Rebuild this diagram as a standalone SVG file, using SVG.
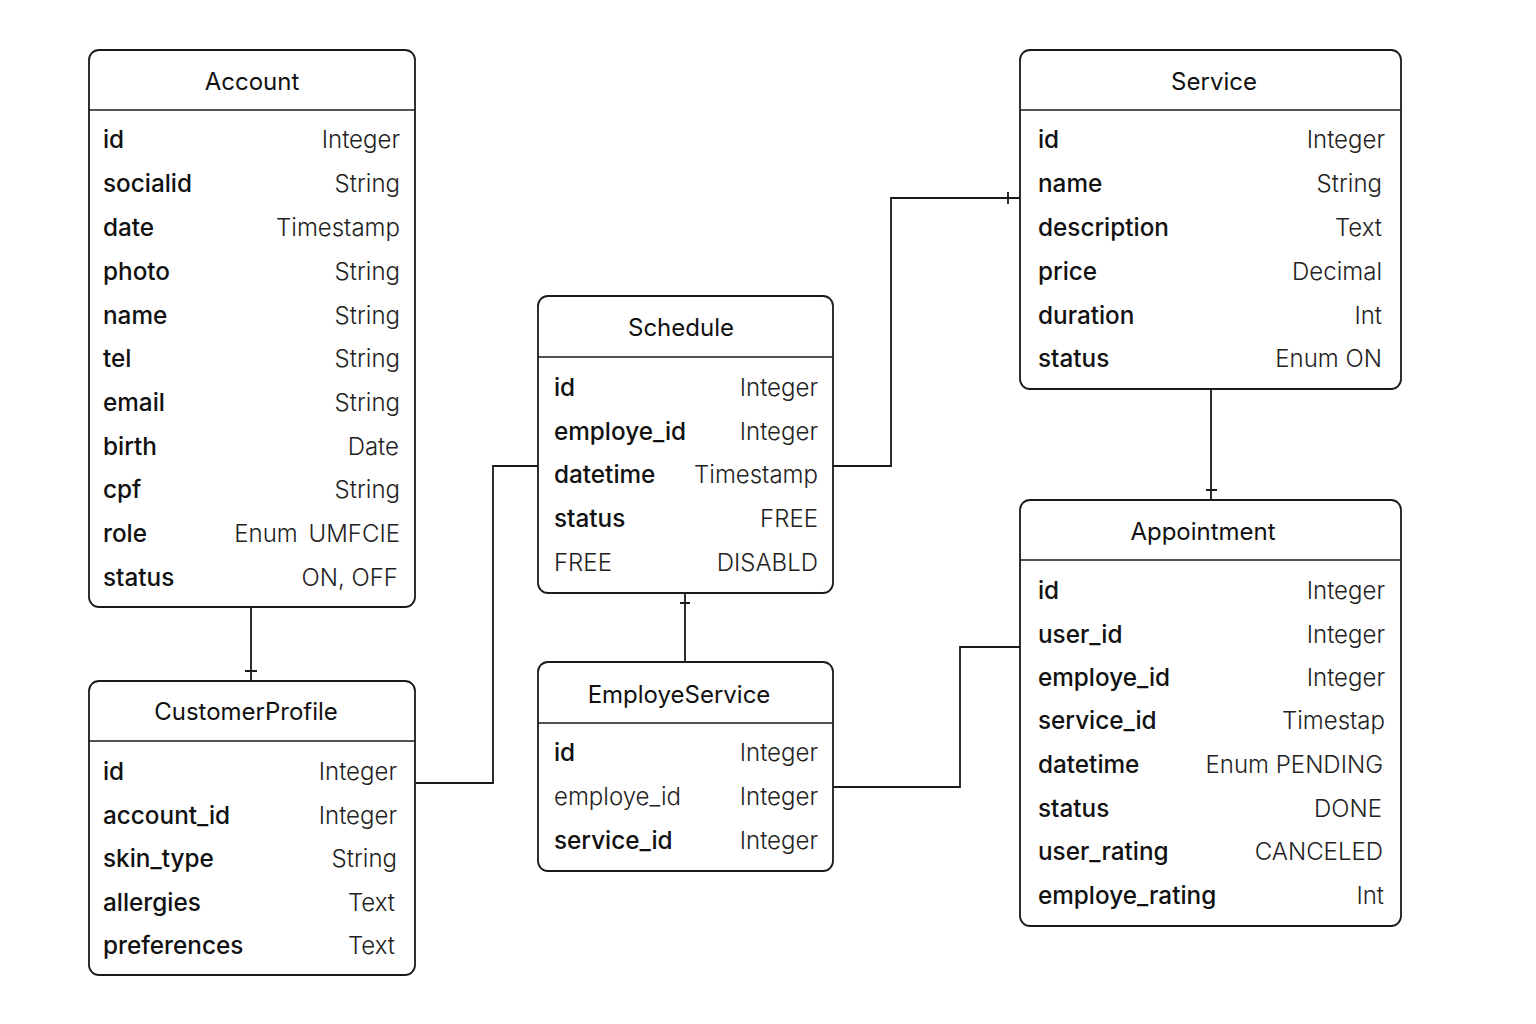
<svg xmlns="http://www.w3.org/2000/svg" width="1536" height="1024" viewBox="0 0 1536 1024">
<style>
.box{fill:#fff;stroke:#1a1a1a;stroke-width:1.8}
.sep{stroke:#1a1a1a;stroke-width:1.5}
.title{font-family:Inter,Roboto,"Liberation Sans",sans-serif;font-size:24px;fill:#111;text-anchor:middle;font-weight:400}
.f{font-family:Inter,Roboto,"Liberation Sans",sans-serif;font-size:24.3px;fill:#111;font-weight:500}
.t{font-family:Inter,Roboto,"Liberation Sans",sans-serif;font-size:24px;fill:#222;text-anchor:end;font-weight:350}
.c{fill:none;stroke:#1a1a1a;stroke-width:1.8}
</style>
<rect width="1536" height="1024" fill="#fff"/>
<g id="connectors">
<path class="c" d="M251,607 V681 M245,671 H257"/>
<path class="c" d="M416,783 H493 V466 H538"/>
<path class="c" d="M833,466 H891 V198 H1020 M1008,192 V204"/>
<path class="c" d="M1211,389 V500 M1206,490 H1217"/>
<path class="c" d="M685,593 V662 M680,603 H690"/>
<path class="c" d="M833,787 H960 V647 H1020"/>
</g>
<g id="Account">
<rect class="box" x="89" y="50" width="326" height="557" rx="10"/>
<line class="sep" x1="89" y1="110" x2="415" y2="110"/>
<text class="title" x="252" y="90">Account</text>
<text class="f" x="103" y="148">id</text><text class="t" x="400" y="148">Integer</text>
<text class="f" x="103" y="192">socialid</text><text class="t" x="400" y="192">String</text>
<text class="f" x="103" y="236">date</text><text class="t" x="400" y="236">Timestamp</text>
<text class="f" x="103" y="280">photo</text><text class="t" x="400" y="280">String</text>
<text class="f" x="103" y="324">name</text><text class="t" x="400" y="324">String</text>
<text class="f" x="103" y="367">tel</text><text class="t" x="400" y="367">String</text>
<text class="f" x="103" y="411">email</text><text class="t" x="400" y="411">String</text>
<text class="f" x="103" y="455">birth</text><text class="t" x="399" y="455">Date</text>
<text class="f" x="103" y="498">cpf</text><text class="t" x="400" y="498">String</text>
<text class="f" x="103" y="542">role</text><text class="t" x="400" y="542">Enum <tspan dx="4">UMFCIE</tspan></text>
<text class="f" x="103" y="586">status</text><text class="t" x="398" y="586">ON, OFF</text>
</g>
<g id="CustomerProfile">
<rect class="box" x="89" y="681" width="326" height="294" rx="10"/>
<line class="sep" x1="89" y1="741" x2="415" y2="741"/>
<text class="title" x="246" y="720">CustomerProfile</text>
<text class="f" x="103" y="780">id</text><text class="t" x="397" y="780">Integer</text>
<text class="f" x="103" y="824">account_id</text><text class="t" x="397" y="824">Integer</text>
<text class="f" x="103" y="867">skin_type</text><text class="t" x="397" y="867">String</text>
<text class="f" x="103" y="911">allergies</text><text class="t" x="395" y="911">Text</text>
<text class="f" x="103" y="954">preferences</text><text class="t" x="395" y="954">Text</text>
</g>
<g id="Schedule">
<rect class="box" x="538" y="296" width="295" height="297" rx="10"/>
<line class="sep" x1="538" y1="357" x2="833" y2="357"/>
<text class="title" x="681" y="336">Schedule</text>
<text class="f" x="554" y="396">id</text><text class="t" x="818" y="396">Integer</text>
<text class="f" x="554" y="440">employe_id</text><text class="t" x="818" y="440">Integer</text>
<text class="f" x="554" y="483">datetime</text><text class="t" x="818" y="483">Timestamp</text>
<text class="f" x="554" y="527">status</text><text class="t" x="818" y="527">FREE</text>
<text class="t" x="554" y="571" style="text-anchor:start">FREE</text><text class="t" x="818" y="571">DISABLD</text>
</g>
<g id="EmployeService">
<rect class="box" x="538" y="662" width="295" height="209" rx="10"/>
<line class="sep" x1="538" y1="723" x2="833" y2="723"/>
<text class="title" x="679" y="703">EmployeService</text>
<text class="f" x="554" y="761">id</text><text class="t" x="818" y="761">Integer</text>
<text class="t" x="554" y="805" style="text-anchor:start">employe_id</text><text class="t" x="818" y="805">Integer</text>
<text class="f" x="554" y="849">service_id</text><text class="t" x="818" y="849">Integer</text>
</g>
<g id="Service">
<rect class="box" x="1020" y="50" width="381" height="339" rx="10"/>
<line class="sep" x1="1020" y1="110" x2="1401" y2="110"/>
<text class="title" x="1214" y="90">Service</text>
<text class="f" x="1038" y="148">id</text><text class="t" x="1385" y="148">Integer</text>
<text class="f" x="1038" y="192">name</text><text class="t" x="1382" y="192">String</text>
<text class="f" x="1038" y="236">description</text><text class="t" x="1382" y="236">Text</text>
<text class="f" x="1038" y="280">price</text><text class="t" x="1382" y="280">Decimal</text>
<text class="f" x="1038" y="324">duration</text><text class="t" x="1382" y="324">Int</text>
<text class="f" x="1038" y="367">status</text><text class="t" x="1382" y="367">Enum ON</text>
</g>
<g id="Appointment">
<rect class="box" x="1020" y="500" width="381" height="426" rx="10"/>
<line class="sep" x1="1020" y1="560" x2="1401" y2="560"/>
<text class="title" x="1203" y="540">Appointment</text>
<text class="f" x="1038" y="599">id</text><text class="t" x="1385" y="599">Integer</text>
<text class="f" x="1038" y="643">user_id</text><text class="t" x="1385" y="643">Integer</text>
<text class="f" x="1038" y="686">employe_id</text><text class="t" x="1385" y="686">Integer</text>
<text class="f" x="1038" y="729">service_id</text><text class="t" x="1385" y="729">Timestap</text>
<text class="f" x="1038" y="773">datetime</text><text class="t" x="1383" y="773">Enum PENDING</text>
<text class="f" x="1038" y="817">status</text><text class="t" x="1382" y="817">DONE</text>
<text class="f" x="1038" y="860">user_rating</text><text class="t" x="1383" y="860">CANCELED</text>
<text class="f" x="1038" y="904">employe_rating</text><text class="t" x="1384" y="904">Int</text>
</g>
</svg>
